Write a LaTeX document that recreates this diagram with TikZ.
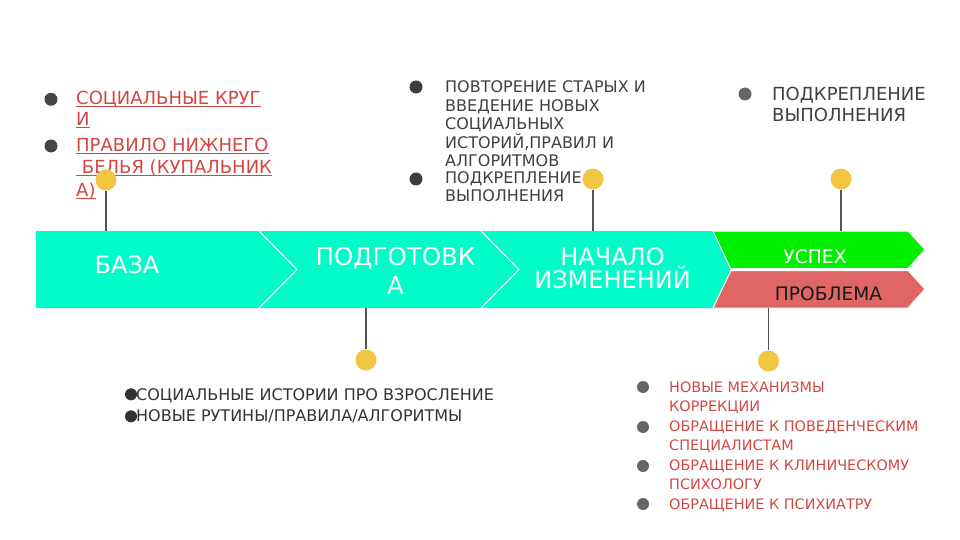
\documentclass[tikz,border=0pt]{standalone}
\usepackage{fontspec}
\setmainfont{DejaVu Sans}
\definecolor{mint}{RGB}{0,252,200}
\definecolor{okgreen}{RGB}{0,240,0}
\definecolor{badred}{RGB}{224,102,102}
\definecolor{dotyel}{RGB}{242,198,66}
\definecolor{txtred}{RGB}{211,71,66}
\definecolor{txtgray}{RGB}{64,64,64}
\definecolor{stemgray}{RGB}{85,85,85}
\newcommand{\undl}[1]{\underline{\smash{#1}}}

\begin{document}
\begin{tikzpicture}[x=1pt,y=-1pt,
    dot/.style={circle,fill=dotyel,minimum size=21pt,inner sep=0pt},
    bul/.style={circle,fill=#1,minimum size=13pt,inner sep=0pt},
    stem/.style={draw=stemgray,line width=1.2pt},
    txt/.style={anchor=base west,inner sep=0pt,align=left},
    bandtxt/.style={anchor=base,inner sep=0pt,align=center,text=white}]
        \useasboundingbox (0,0) rectangle (960,540);
        \fill[mint] (36,231) -- (713,231) -- (731,269.5) -- (713,308) -- (36,308) -- cycle;
        \draw[white,line width=1pt] (259,231) -- (297,269.5) -- (259,308);
        \draw[white,line width=1pt] (481,231) -- (519,269.5) -- (481,308);
        \filldraw[fill=okgreen,draw=white,line width=1pt] (713,231) -- (908,231) -- (925,249.5) -- (908,268.5) -- (730.5,268.5) -- cycle;
        \filldraw[fill=badred,draw=white,line width=1pt] (731,270.5) -- (908,270.5) -- (925,289) -- (908,308) -- (713,308) -- cycle;
        \node[bandtxt,font=\fontsize{24}{24}\selectfont] (baza) at (127,273) {БАЗА};
        \node[bandtxt,font=\fontsize{24.5}{29}\selectfont] (podg) at (395.5,294) {ПОДГОТОВК\\А};
        \node[bandtxt,font=\fontsize{24}{23}\selectfont] (nach) at (612.5,288) {НАЧАЛО\\ИЗМЕНЕНИЙ};
        \node[bandtxt,font=\fontsize{18.7}{18.7}\selectfont] (uspeh) at (815,263) {УСПЕХ};
        \node[bandtxt,text=black!90,font=\fontsize{18.6}{18.6}\selectfont] (probl) at (828.5,300) {ПРОБЛЕМА};

        \node[bul=black!73] (bk1) at (51,99.3) {};
        \node[bul=black!73] (bk2) at (51,146) {};
        \node[txt,text=txtred,font=\fontsize{18}{20.5}\selectfont] (krug) at (76,125.5) {\undl{СОЦИАЛЬНЫЕ КРУГ}\\\undl{И}};
        \node[txt,text=txtred,font=\fontsize{18}{22.5}\selectfont] (belie) at (76,196.5) {\undl{ПРАВИЛО НИЖНЕГО}\\\undl{~БЕЛЬЯ (КУПАЛЬНИК}\\\undl{А)}};

        \node[bul=black!76] (bp1) at (416,87) {};
        \node[bul=black!76] (bp2) at (416,179) {};
        \node[txt,text=txtgray,font=\fontsize{16}{18.5}\selectfont] (povt) at (445,167) {ПОВТОРЕНИЕ СТАРЫХ И\\ВВЕДЕНИЕ НОВЫХ\\СОЦИАЛЬНЫХ\\ИСТОРИЙ,ПРАВИЛ И\\АЛГОРИТМОВ};
        \node[txt,text=txtgray,font=\fontsize{16}{18.5}\selectfont] (podkr) at (445,201.5) {ПОДКРЕПЛЕНИЕ\\ВЫПОЛНЕНИЯ};

        \node[bul=black!60] (bu1) at (745,94) {};
        \node[txt,text=txtgray,font=\fontsize{18}{21}\selectfont] (vypol) at (772,122) {ПОДКРЕПЛЕНИЕ\\ВЫПОЛНЕНИЯ};

        \node[bul=black!80,minimum size=12pt] (bs1) at (131,394.3) {};
        \node[bul=black!80,minimum size=12pt] (bs2) at (131,416.3) {};
        \node[txt,text=black!80,font=\fontsize{16}{21}\selectfont] (istor) at (136,421) {СОЦИАЛЬНЫЕ ИСТОРИИ ПРО ВЗРОСЛЕНИЕ\\НОВЫЕ РУТИНЫ/ПРАВИЛА/АЛГОРИТМЫ};

        \node[bul=black!60,minimum size=12pt] (bf1) at (643,387) {};
        \node[bul=black!60,minimum size=12pt] (bf2) at (643,427) {};
        \node[bul=black!60,minimum size=12pt] (bf3) at (643,466) {};
        \node[bul=black!60,minimum size=12pt] (bf4) at (643,504) {};
        \node[txt,text=txtred,font=\fontsize{14.4}{19.5}\selectfont] (korr) at (669,509) {НОВЫЕ МЕХАНИЗМЫ\\КОРРЕКЦИИ\\ОБРАЩЕНИЕ К ПОВЕДЕНЧЕСКИМ\\СПЕЦИАЛИСТАМ\\ОБРАЩЕНИЕ К КЛИНИЧЕСКОМУ\\ПСИХОЛОГУ\\ОБРАЩЕНИЕ К ПСИХИАТРУ};

        \coordinate (t1) at (106,231);
        \coordinate (t2) at (593,231);
        \coordinate (t3) at (841,231);
        \coordinate (b4) at (366,308);
        \coordinate (b5) at (768.5,308);
        \node[dot] (d1) at (106,180) {};
        \node[dot] (d2) at (593,179) {};
        \node[dot] (d3) at (841,179) {};
        \node[dot] (d4) at (366,360) {};
        \node[dot] (d5) at (768.5,361) {};
        \draw[stem] (d1) -- (t1);
        \draw[stem] (d2) -- (t2);
        \draw[stem] (d3) -- (t3);
        \draw[stem] (d4) -- (b4);
        \draw[stem] (d5) -- (b5);
\end{tikzpicture}
\end{document}
